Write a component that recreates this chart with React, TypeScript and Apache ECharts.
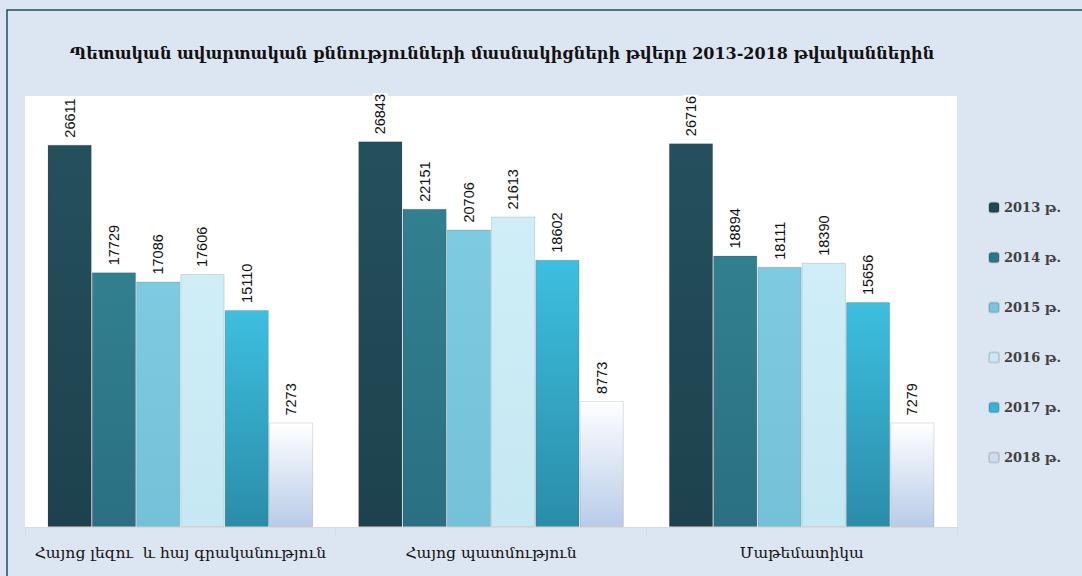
import React, { useEffect, useRef } from "react";
import * as echarts from "echarts";

const title = "Պետական ավարտական քննությունների մասնակիցների թվերը 2013-2018 թվականներին";
const categories = ["Հայոց լեզու  և հայ գրականություն", "Հայոց պատմություն", "Մաթեմատիկա"];
const years = ["2013 թ.", "2014 թ.", "2015 թ.", "2016 թ.", "2017 թ.", "2018 թ."];
const v2013 = [26611, 26843, 26716];
const v2014 = [17729, 22151, 18894];
const v2015 = [17086, 20706, 18111];
const v2016 = [17606, 21613, 18390];
const v2017 = [15110, 18602, 15656];
const v2018 = [7273, 8773, 7279];
const seriesValues = [v2013, v2014, v2015, v2016, v2017, v2018];

const grad = (top: string, bottom: string) =>
  new echarts.graphic.LinearGradient(0, 0, 0, 1, [
    { offset: 0, color: top },
    { offset: 1, color: bottom },
  ]);

const colors = [
  grad("#24505D", "#1D424D"),
  grad("#31808F", "#2A7082"),
  grad("#7CCBE0", "#74C2D8"),
  grad("#CFEEF7", "#C6E8F2"),
  grad("#3DBFE0", "#2A8DA8"),
  grad("#FFFFFF", "#B8CCE8"),
];
const legendColors = ["#1F4652", "#2D7689", "#78C6DC", "#C9EAF4", "#36B4D6", "#D0DCEE"];

export default function App() {
  const ref = useRef<HTMLDivElement>(null);
  useEffect(() => {
    if (!ref.current) return;
    const chart = echarts.init(ref.current, undefined, { renderer: "svg" });
    chart.setOption({
      animation: false,
      backgroundColor: "#DCE6F2",
      title: {
        text: title,
        left: 497,
        top: 40,
        textAlign: "center",
        textStyle: { fontFamily: "DejaVu Serif", fontWeight: "bold", fontSize: 16, color: "#111" },
      },
      graphic: [
        {
          type: "rect",
          shape: { x: 7, y: 10, width: 1100, height: 600 },
          style: { fill: "none", stroke: "#1F4E5F", lineWidth: 1.5 },
          silent: true,
        },
      ],
      legend: {
        orient: "vertical",
        left: 983,
        top: 196,
        itemWidth: 10,
        itemHeight: 10,
        itemGap: 37,
        data: years.map((y, i) => ({ name: y, itemStyle: { color: legendColors[i] } })),
        textStyle: { fontFamily: "DejaVu Serif", fontWeight: "bold", fontSize: 13, color: "#404040" },
      },
      grid: {
        left: 25,
        right: 125,
        top: 96,
        bottom: 49,
        show: true,
        backgroundColor: "#FFFFFF",
        borderWidth: 0,
      },
      xAxis: {
        type: "category",
        data: categories,
        axisLine: { lineStyle: { color: "#D9D9D9" } },
        axisTick: { show: true, length: 8, lineStyle: { color: "#D9D9D9" } },
        axisLabel: { interval: 0, fontFamily: "DejaVu Serif", fontSize: 15.5, color: "#111", margin: 18 },
      },
      yAxis: {
        type: "value",
        min: 0,
        max: 30000,
        show: false,
        splitLine: { show: false },
      },
      series: seriesValues.map((vals, i) => ({
        name: years[i],
        type: "bar",
        data: vals,
        barGap: "0%",
        barCategoryGap: "14.5%",
        itemStyle: { color: colors[i], borderColor: "rgba(0,0,0,0.12)", borderWidth: 1 },
        label: {
          show: true,
          position: "top",
          rotate: 90,
          align: "left",
          verticalAlign: "middle",
          distance: 6,
          fontFamily: "Liberation Sans",
          fontSize: 14.5,
          color: "#111",
          backgroundColor: "#FFFFFF",
          padding: [0, 1],
        },
      })),
    });
    return () => chart.dispose();
  }, []);
  return (
    <div
      ref={ref}
      style={{ position: "absolute", left: 0, top: 0, width: 1082, height: 576 }}
    />
  );
}
